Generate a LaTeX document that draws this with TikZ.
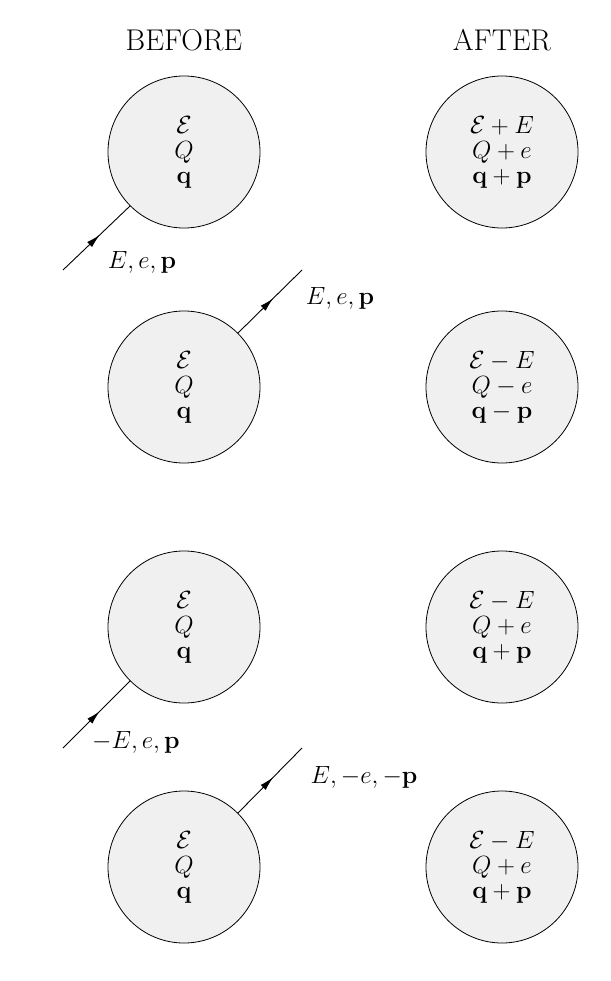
\documentclass[tikz,border=0pt]{standalone}
\usepackage{amsmath}
\usetikzlibrary{decorations.markings,arrows.meta}
\begin{document}
\begin{tikzpicture}[x=1pt,y=-1pt,
  ball/.style={circle,draw,line width=0.8pt,fill=gray!12,minimum size=152pt,inner sep=0pt,align=center,font=\fontsize{30}{25}\selectfont},
  lbl/.style={font=\fontsize{30}{25}\selectfont},
  ray/.style={line width=0.9pt,postaction={decorate},decoration={markings,mark=at position 0.55 with {\arrow{Latex[length=14pt,width=7pt]}}}}]
\useasboundingbox (0,0) rectangle (610,981);
\node[lbl] (tb) at (184,40) {BEFORE};
\node[lbl] (ta) at (502,40) {AFTER};
\node[ball] (b1) at (184,152) {$\mathcal{E}$\\$Q$\\$\mathbf{q}$};
\node[ball] (a1) at (502,152) {$\mathcal{E}+E$\\$Q+e$\\$\mathbf{q}+\mathbf{p}$};
\node[ball] (b2) at (184,387) {$\mathcal{E}$\\$Q$\\$\mathbf{q}$};
\node[ball] (a2) at (502,387) {$\mathcal{E}-E$\\$Q-e$\\$\mathbf{q}-\mathbf{p}$};
\node[ball] (b3) at (184,627) {$\mathcal{E}$\\$Q$\\$\mathbf{q}$};
\node[ball] (a3) at (502,627) {$\mathcal{E}-E$\\$Q+e$\\$\mathbf{q}+\mathbf{p}$};
\node[ball] (b4) at (184,867) {$\mathcal{E}$\\$Q$\\$\mathbf{q}$};
\node[ball] (a4) at (502,867) {$\mathcal{E}-E$\\$Q+e$\\$\mathbf{q}+\mathbf{p}$};
\coordinate (s1) at (63,270);
\coordinate (s2) at (302,270);
\coordinate (s3) at (63,748);
\coordinate (s4) at (302,748);
\draw[ray] (s1) -- (b1.225);
\draw[ray] (b2.45) -- (s2);
\draw[ray] (s3) -- (b3.225);
\draw[ray] (b4.45) -- (s4);
\node[lbl] (l1) at (142,262) {$E,e,\mathbf{p}$};
\node[lbl] (l2) at (340,298) {$E,e,\mathbf{p}$};
\node[lbl] (l3) at (136,742) {$-E,e,\mathbf{p}$};
\node[lbl] (l4) at (364,777) {$E,-e,-\mathbf{p}$};
\end{tikzpicture}
\end{document}
